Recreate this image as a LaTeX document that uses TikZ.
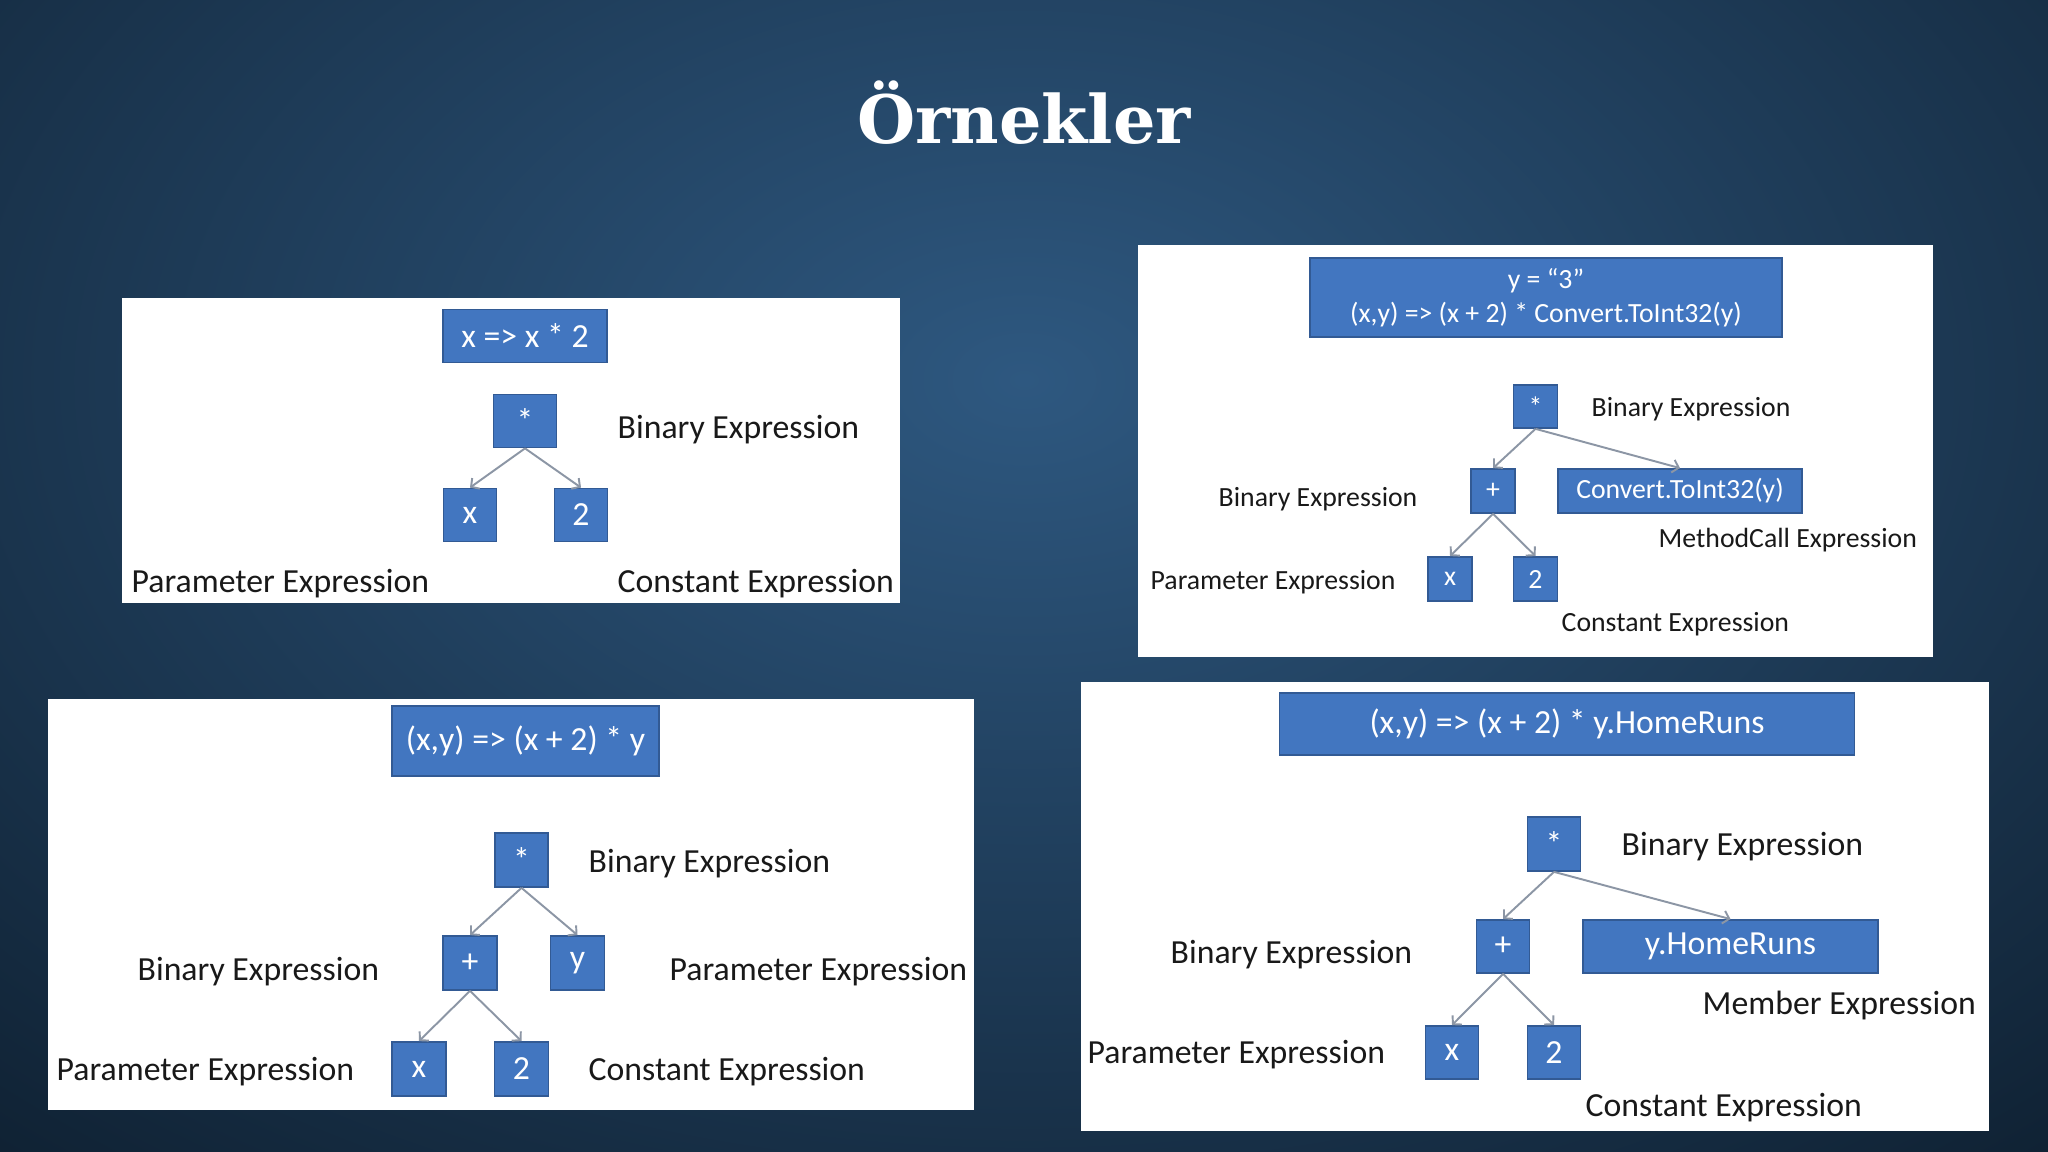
\documentclass[tikz,border=0pt]{standalone}
\usepackage{fontspec}
\setmainfont{Carlito}
\newfontfamily\slidetitle{DejaVu Serif}
\usetikzlibrary{arrows.meta}
\definecolor{bgdark}{RGB}{9,22,35}
\definecolor{bglight}{RGB}{46,88,128}
\definecolor{boxblue}{RGB}{66,118,192}
\definecolor{boxline}{RGB}{50,90,148}
\definecolor{arrowgray}{RGB}{140,150,165}
\definecolor{labeltext}{RGB}{25,25,25}
\newcommand\bigtxt{\fontsize{9.6}{11.5}\selectfont}
\newcommand\smalltxt{\fontsize{7.9}{9.7}\selectfont}

\begin{document}
\begin{tikzpicture}[x=0.1mm, y=-0.1mm,
  panel/.style={fill=white},
  blk/.style={fill=boxblue, draw=boxline, line width=0.5pt, text=white, inner sep=0pt, font=\bigtxt},
  sblk/.style={blk, font=\smalltxt},
  lbl/.style={anchor=west, inner sep=0pt, yshift=-0.2mm, text=labeltext, font=\bigtxt},
  slbl/.style={lbl, font=\smalltxt},
  treeline/.style={draw=arrowgray, line width=0.55pt, -{Straight Barb[length=0.6mm, width=1.3mm]}}]
\useasboundingbox (0,0) rectangle (2048,1152);
\fill[bgdark] (0,0) rectangle (2048,1152);
\shade[inner color=bglight, outer color=bgdark] (1024,380) ellipse (1900 and 1250);

\node[anchor=base, text=white, font=\slidetitle\bfseries\fontsize{19}{22}\selectfont] (heading) at (1024,144) {Örnekler};

\fill[panel] (122,298) rectangle (900,603);
\node[blk, minimum width=16.4mm, minimum height=5.3mm] (e1) at (525,336) {x => x * 2};
\node[blk, minimum width=6.3mm, minimum height=5.3mm] (m1) at (525,421) {*};
\node[blk, minimum size=5.3mm] (x1) at (470,515) {x};
\node[blk, minimum size=5.3mm] (c1) at (581,515) {2};
\node[lbl] (bin1) at (617,428) {Binary Expression};
\node[lbl] (par1) at (131,582) {Parameter Expression};
\node[lbl] (con1) at (617,582) {Constant Expression};
\draw[treeline] (m1.south) -- (x1.north);
\draw[treeline] (m1.south) -- (c1.north);

\fill[panel] (1138,245) rectangle (1933,657);
\node[sblk, minimum width=47.2mm, minimum height=7.9mm, align=center] (e2) at (1546,297.5) {y = “3”\\(x,y) => (x + 2) * Convert.ToInt32(y)};
\node[sblk, minimum width=4.4mm, minimum height=4.3mm] (m2) at (1535.5,406.5) {*};
\node[sblk, minimum size=4.4mm] (p2) at (1493,491) {+};
\node[sblk, minimum width=24.4mm, minimum height=4.4mm] (mc2) at (1680,491) {Convert.ToInt32(y)};
\node[sblk, minimum size=4.4mm] (x2) at (1450,579) {x};
\node[sblk, minimum size=4.4mm] (c2) at (1535.5,579) {2};
\node[slbl] (bin2) at (1591,407) {Binary Expression};
\node[slbl] (bin2b) at (1218,497) {Binary Expression};
\node[slbl] (met2) at (1658,538) {MethodCall Expression};
\node[slbl] (par2) at (1150,580) {Parameter Expression};
\node[slbl] (con2) at (1561,622) {Constant Expression};
\draw[treeline] (m2.south) -- (p2.north);
\draw[treeline] (m2.south) -- (mc2.north);
\draw[treeline] (p2.south) -- (x2.north);
\draw[treeline] (p2.south) -- (c2.north);

\fill[panel] (48,699) rectangle (974,1110);
\node[blk, minimum width=26.7mm, minimum height=7mm] (e3) at (525.5,741) {(x,y) => (x + 2) * y};
\node[blk, minimum width=5.3mm, minimum height=5.4mm] (m3) at (521.5,860) {*};
\node[blk, minimum size=5.4mm] (p3) at (470,963) {+};
\node[blk, minimum size=5.4mm] (y3) at (577.5,963) {y};
\node[blk, minimum size=5.4mm] (x3) at (419,1069) {x};
\node[blk, minimum size=5.4mm] (c3) at (521.5,1069) {2};
\node[lbl] (bin3) at (588,862) {Binary Expression};
\node[lbl] (bin3b) at (137,970) {Binary Expression};
\node[lbl] (par3) at (669,970) {Parameter Expression};
\node[lbl] (par3b) at (56,1070) {Parameter Expression};
\node[lbl] (con3) at (588,1070) {Constant Expression};
\draw[treeline] (m3.south) -- (p3.north);
\draw[treeline] (m3.south) -- (y3.north);
\draw[treeline] (p3.south) -- (x3.north);
\draw[treeline] (p3.south) -- (c3.north);

\fill[panel] (1081,682) rectangle (1989,1131);
\node[blk, minimum width=57.5mm, minimum height=6.2mm] (e4) at (1567,724) {(x,y) => (x + 2) * y.HomeRuns};
\node[blk, minimum width=5.3mm, minimum height=5.4mm] (m4) at (1554,844) {*};
\node[blk, minimum size=5.3mm] (p4) at (1503,946.5) {+};
\node[blk, minimum width=29.5mm, minimum height=5.3mm] (hr4) at (1730.5,946.5) {y.HomeRuns};
\node[blk, minimum size=5.3mm] (x4) at (1452,1052.5) {x};
\node[blk, minimum size=5.3mm] (c4) at (1554,1052.5) {2};
\node[lbl] (bin4) at (1621,845) {Binary Expression};
\node[lbl] (bin4b) at (1170,953) {Binary Expression};
\node[lbl] (mem4) at (1702,1004) {Member Expression};
\node[lbl] (par4) at (1087,1053) {Parameter Expression};
\node[lbl] (con4) at (1585,1106) {Constant Expression};
\draw[treeline] (m4.south) -- (p4.north);
\draw[treeline] (m4.south) -- (hr4.north);
\draw[treeline] (p4.south) -- (x4.north);
\draw[treeline] (p4.south) -- (c4.north);
\end{tikzpicture}
\end{document}
